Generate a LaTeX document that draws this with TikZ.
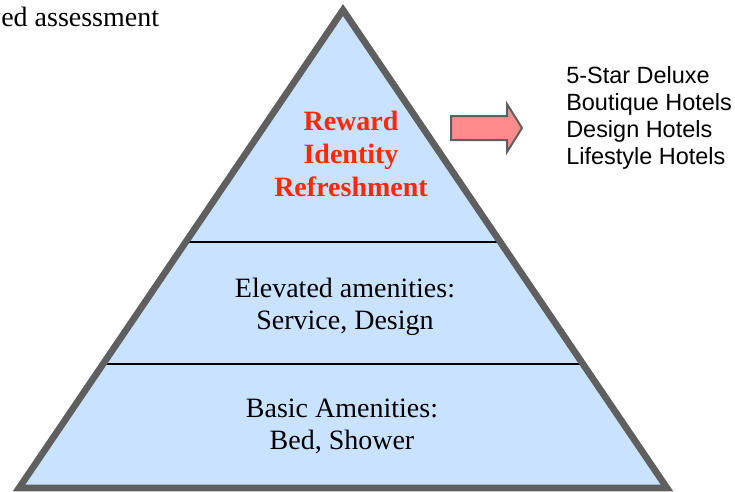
\documentclass[tikz,border=0pt]{standalone}
\usepackage{fontspec}
\setmainfont{Liberation Serif}
\newfontfamily\listfont{Liberation Sans}
\usetikzlibrary{calc}
\definecolor{tierfill}{RGB}{200,226,255}
\definecolor{edgegray}{RGB}{95,95,95}
\definecolor{rewardred}{RGB}{255,40,0}
\definecolor{arrowpink}{RGB}{255,140,140}
\tikzset{
  tier/.style={align=center, inner sep=0pt, font=\fontsize{21}{24}\selectfont},
  listtext/.style={align=left, inner sep=0pt, font=\listfont\fontsize{17.6}{20.25}\selectfont},
  blockarrow/.style={draw=edgegray, line width=1.5pt, fill=arrowpink, line join=miter}
}
\begin{document}
\begin{tikzpicture}[x=0.75pt,y=-0.75pt]
        \useasboundingbox (0,0) rectangle (735,492);
        \coordinate (apex) at (343,10);
        \coordinate (bl) at (19,488);
        \coordinate (br) at (667,488);
        \fill[tierfill] (apex)--(bl)--(br)--cycle;
        \draw[line width=1.5pt] ($(apex)!0.485!(bl)$)--($(apex)!0.485!(br)$);
        \draw[line width=1.5pt] ($(apex)!0.741!(bl)$)--($(apex)!0.741!(br)$);
        \draw[edgegray, line width=5pt, line join=miter] (apex)--(bl)--(br)--cycle;
        \node[tier, text=rewardred, font=\fontsize{21}{25}\selectfont\bfseries] (reward) at (351,154) {Reward\\Identity\\Refreshment};
        \node[tier] (elevated) at (345,307) {Elevated amenities:\\Service, Design};
        \node[tier] (basic) at (342,426) {Basic Amenities:\\Bed, Shower};
        \draw[blockarrow] (451,116)--(507,116)--(507,104)--(522,128)--(507,152)--(507,140)--(451,140)--cycle;
        \node[listtext, anchor=west] (hotels) at (566,118) {5-Star Deluxe\\Boutique Hotels\\Design Hotels\\Lifestyle Hotels};
        \node[anchor=base west, inner sep=0pt, font=\fontsize{21}{24}\selectfont] (title) at (1,27) {ed assessment};
    \end{tikzpicture}
\end{document}
